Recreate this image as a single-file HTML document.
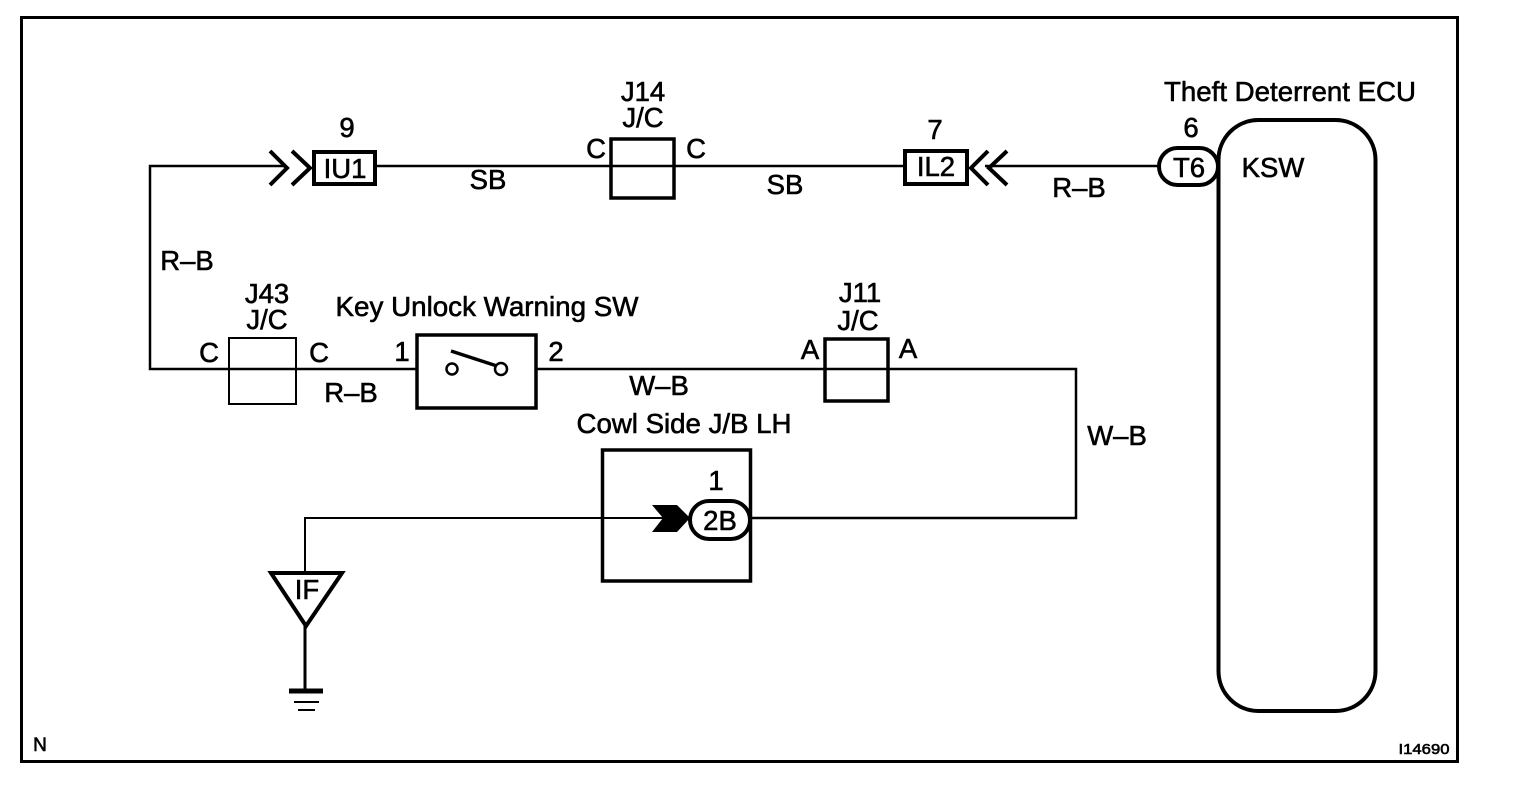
<!DOCTYPE html>
<html><head><meta charset="utf-8"><style>
html,body{margin:0;padding:0;background:#fff;width:1520px;height:786px;overflow:hidden}
svg{display:block}
text{font-family:"Liberation Sans",sans-serif;font-size:27.5px;fill:#000;stroke:#000;stroke-width:.6px}
</style></head><body>
<svg width="1520" height="786" viewBox="0 0 1520 786" xmlns="http://www.w3.org/2000/svg">
<rect x="0" y="0" width="1520" height="786" fill="#fff"/>
<rect x="21.5" y="17.5" width="1436" height="744" fill="none" stroke="#000" stroke-width="3"/>
<g fill="none" stroke="#000">
<!-- wires -->
<path d="M284 166H150V369H416" stroke-width="2.5"/>
<path d="M375 166H904" stroke-width="2.5"/>
<path d="M985 166H1158" stroke-width="2.5"/>
<path d="M536 369H1076V518H750" stroke-width="2.5"/>
<path d="M690 518H305V572" stroke-width="2"/>
<path d="M305 572V690" stroke-width="3"/>
<!-- connector boxes -->
<rect x="314" y="152" width="61" height="32" stroke-width="4" fill="#fff"/>
<rect x="611" y="139" width="63" height="59" stroke-width="3.5"/>
<rect x="905" y="151" width="62" height="33" stroke-width="4" fill="#fff"/>
<rect x="229" y="338" width="67" height="66" stroke-width="2"/>
<rect x="825" y="339" width="63" height="62" stroke-width="3.5"/>
<rect x="417" y="335" width="119" height="73" stroke-width="3.5"/>
<rect x="602.5" y="450" width="148" height="131" stroke-width="3.5"/>
<!-- chevrons -->
<path d="M270 151L287 168L270 185M292 151L310 168L292 185" stroke-width="4"/>
<path d="M988 151L971 168L988 185M1007 151L989 168L1007 185" stroke-width="4"/>
<!-- pills -->
<rect x="1159" y="148" width="59" height="37" rx="18.5" stroke-width="4" fill="#fff"/>
<rect x="690" y="501" width="60" height="38" rx="19" stroke-width="4" fill="#fff"/>
<!-- ECU -->
<rect x="1218.5" y="120" width="157" height="591" rx="40" stroke-width="4"/>
<!-- switch -->
<circle cx="452" cy="369" r="5.5" stroke-width="2.5" fill="#fff"/>
<circle cx="501" cy="369" r="6" stroke-width="2.5" fill="#fff"/>
<path d="M451 351L497 366" stroke-width="3.5"/>
<!-- ground tag -->
<path d="M271 573H342L306 626Z" stroke-width="4" fill="#fff"/>
<path d="M289 691H323" stroke-width="5"/>
<path d="M294 702H319" stroke-width="2"/>
<path d="M298 710H315" stroke-width="2"/>
</g>
<path d="M652 505H677L690 518L677 532H652L663 518Z" fill="#000"/>
<!-- labels -->
<text x="347" y="137" text-anchor="middle">9</text>
<text x="345" y="178" text-anchor="middle">IU1</text>
<text x="488" y="189" text-anchor="middle">SB</text>
<text x="643" y="101" text-anchor="middle">J14</text>
<text x="643" y="127" text-anchor="middle">J/C</text>
<text x="596" y="158" text-anchor="middle">C</text>
<text x="696" y="158" text-anchor="middle">C</text>
<text x="785" y="194" text-anchor="middle">SB</text>
<text x="935" y="139" text-anchor="middle">7</text>
<text x="936" y="176" text-anchor="middle">IL2</text>
<text x="1079" y="197" text-anchor="middle">R–B</text>
<text x="1191" y="137" text-anchor="middle">6</text>
<text x="1189" y="177" text-anchor="middle">T6</text>
<text x="1290" y="101" text-anchor="middle" textLength="252" lengthAdjust="spacingAndGlyphs">Theft Deterrent ECU</text>
<text x="1273" y="177" text-anchor="middle">KSW</text>
<text x="187" y="270" text-anchor="middle">R–B</text>
<text x="267" y="303" text-anchor="middle">J43</text>
<text x="267" y="329" text-anchor="middle">J/C</text>
<text x="209" y="362" text-anchor="middle">C</text>
<text x="319" y="362" text-anchor="middle">C</text>
<text x="351" y="402" text-anchor="middle">R–B</text>
<text x="402" y="361" text-anchor="middle">1</text>
<text x="556" y="361" text-anchor="middle">2</text>
<text x="487" y="316" text-anchor="middle" textLength="303" lengthAdjust="spacingAndGlyphs">Key Unlock Warning SW</text>
<text x="659" y="395" text-anchor="middle">W–B</text>
<text x="860" y="302" text-anchor="middle">J11</text>
<text x="858" y="330" text-anchor="middle">J/C</text>
<text x="810" y="359" text-anchor="middle">A</text>
<text x="908" y="358" text-anchor="middle">A</text>
<text x="1117" y="445" text-anchor="middle">W–B</text>
<text x="684" y="433" text-anchor="middle" textLength="215" lengthAdjust="spacingAndGlyphs">Cowl Side J/B LH</text>
<text x="716" y="490" text-anchor="middle">1</text>
<text x="720" y="530" text-anchor="middle">2B</text>
<text x="307" y="599" text-anchor="middle">IF</text>
<text x="40" y="751" text-anchor="middle" style="font-size:19px">N</text>
<text x="1424" y="754" text-anchor="middle" textLength="51" lengthAdjust="spacingAndGlyphs" style="font-size:15px">I14690</text>
</svg>
</body></html>
